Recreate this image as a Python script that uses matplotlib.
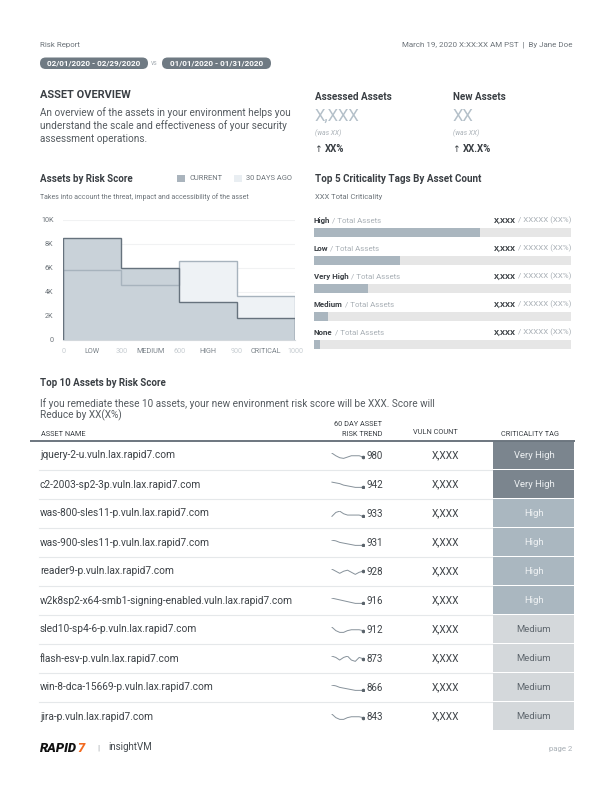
import matplotlib.pyplot as plt
import numpy as np
from matplotlib.patches import FancyBboxPatch, Rectangle

plt.rcParams['font.family'] = ['Roboto', 'DejaVu Sans']

# report period
period_current = '02/01/2020 - 02/29/2020'
period_prior = '01/01/2020 - 01/31/2020'

# assets by risk score, counts per score band
score_bands = ['LOW', 'MEDIUM', 'HIGH', 'CRITICAL']
score_edges = ['0', '300', '600', '900', '1000']
current_counts = [8500, 6000, 3200, 1800]
prior_counts = [5800, 4600, 6600, 3700]
count_ticks = [0, 2000, 4000, 6000, 8000, 10000]
count_labels = ['0', '2K', '4K', '6K', '8K', '10K']

# top 5 criticality tags, share of total assets
crit_tags = ['High', 'Low', 'Very High', 'Medium', 'None']
crit_share = [0.646, 0.335, 0.21, 0.054, 0.023]

# top 10 assets by risk score
asset_names = ['jquery-2-u.vuln.lax.rapid7.com',
               'c2-2003-sp2-3p.vuln.lax.rapid7.com',
               'was-800-sles11-p.vuln.lax.rapid7.com',
               'was-900-sles11-p.vuln.lax.rapid7.com',
               'reader9-p.vuln.lax.rapid7.com',
               'w2k8sp2-x64-smb1-signing-enabled.vuln.lax.rapid7.com',
               'sled10-sp4-6-p.vuln.lax.rapid7.com',
               'flash-esv-p.vuln.lax.rapid7.com',
               'win-8-dca-15669-p.vuln.lax.rapid7.com',
               'jira-p.vuln.lax.rapid7.com']
risk_scores = [980, 942, 933, 931, 928, 916, 912, 873, 866, 843]
vuln_counts = ['X,XXX'] * 10
asset_tags = ['Very High', 'Very High', 'High', 'High', 'High', 'High',
              'Medium', 'Medium', 'Medium', 'Medium']
risk_trends = [
    [9, 5, 2, 1, 3, 5, 5, 5, 3],
    [9, 8, 7, 5, 4, 3, 2, 2, 2],
    [3, 6, 7, 5, 4, 4, 4, 4, 3],
    [9, 8, 6, 5, 4, 3, 2, 2, 2],
    [6, 4, 2, 4, 5, 3, 1, 3, 4],
    [9, 8, 7, 6, 5, 4, 3, 3, 3],
    [8, 4, 2, 2, 4, 5, 5, 5, 4],
    [5, 4, 2, 4, 5, 2, 1, 4, 3],
    [9, 8, 6, 5, 4, 3, 2, 2, 2],
    [8, 4, 2, 2, 4, 5, 5, 5, 4],
]

W, H = 612, 792
DARK = '#3a3f44'
MID = '#6d747a'
LIGHT = '#a9b0b6'
BODY = '#555b60'

fig = plt.figure(figsize=(W / 100, H / 100), dpi=100)


def box(x0, y0, x1, y1):
    return [x0 / W, 1 - y1 / H, (x1 - x0) / W, (y1 - y0) / H]


bg = fig.add_axes([0, 0, 1, 1])
bg.set_xlim(0, W)
bg.set_ylim(H, 0)
bg.axis('off')

# header
bg.text(40, 44.5, 'Risk Report', fontsize=5.7, color=MID, va='center')
bg.text(572, 44.5, 'March 19, 2020 X:XX:XX AM PST  |  By Jane Doe', fontsize=5.8,
        color=MID, va='center', ha='right')
for x0, x1, label in [(40, 148, period_current), (162, 271, period_prior)]:
    bg.add_patch(FancyBboxPatch((x0, 57.5), x1 - x0, 11.5,
                                boxstyle='round,pad=0,rounding_size=5.7',
                                fc='#6f7a83', ec='none'))
    bg.text((x0 + x1) / 2, 63.3, label, fontsize=5.9, color='white',
            fontweight='bold', ha='center', va='center')
bg.text(154, 63.3, 'vs', fontsize=4.8, color=LIGHT, ha='center', va='center')

# asset overview
bg.text(40, 95.5, 'ASSET OVERVIEW', fontsize=7.9, fontweight='bold', color=DARK, va='center')
for i, line in enumerate(['An overview of the assets in your environment helps you',
                          'understand the scale and effectiveness of your security',
                          'assessment operations.']):
    bg.text(40, 112.5 + 13 * i, line, fontsize=7.2, color=BODY, va='center')

for x0, title, value, delta in [(315, 'Assessed Assets', 'X,XXX', 'XX%'),
                                (453, 'New Assets', 'XX', 'XX.X%')]:
    bg.text(x0, 96.5, title, fontsize=7.1, fontweight='bold', color=DARK, va='center')
    bg.text(x0, 116.5, value, fontsize=12, color='#b4c0c9', va='center')
    bg.text(x0, 133.3, '(was XX)', fontsize=4.9, style='italic', color=LIGHT, va='center')
    arr = bg.text(x0, 149.3, '\u2191 ', fontsize=6.6, color=DARK, va='center')
    bg.annotate(delta, xy=(1, 0), xycoords=arr, fontsize=6.9, fontweight='bold',
                color=DARK, va='bottom')

# assets by risk score
bg.text(40, 178.7, 'Assets by Risk Score', fontsize=7.0, fontweight='bold', color=DARK, va='center')
bg.add_patch(Rectangle((177, 175), 8, 7, fc='#aab4bd', ec='none'))
bg.text(189.5, 178.7, 'CURRENT', fontsize=5.4, color=MID, va='center')
bg.add_patch(Rectangle((234, 175), 8, 7, fc='#e9eef2', ec='none'))
bg.text(246, 178.7, '30 DAYS AGO', fontsize=5.4, color=MID, va='center')
bg.text(40, 197.3, 'Takes into account the threat, impact and accessibility of the asset',
        fontsize=5.0, color=MID, va='center')

ax = fig.add_axes(box(63.3, 220, 295, 340))
ax.patch.set_alpha(0)
edges = np.arange(len(current_counts) + 1)
ax.stairs(prior_counts, edges, baseline=0, fill=True, color='#eef2f5', lw=0, zorder=1)
ax.stairs(current_counts, edges, baseline=0, fill=True, color='#c9d2d9', lw=0, zorder=2)
ax.stairs(prior_counts, edges, baseline=0, color='#a7b3bd', lw=1, zorder=3)
ax.stairs(current_counts, edges, baseline=0, color='#66727d', lw=1, zorder=4)
ax.set_xlim(0, len(current_counts))
ax.set_ylim(0, 10000)
ax.set_yticks(count_ticks, labels=count_labels)
ax.set_xticks(edges, labels=score_edges)
ax.set_xticks(edges[:-1] + 0.5, labels=score_bands, minor=True)
ax.tick_params(axis='both', which='both', length=0, labelsize=5.2)
ax.tick_params(axis='y', pad=7, colors=MID)
ax.tick_params(axis='x', which='both', pad=6)
for lab in ax.get_xticklabels():
    lab.set_color('#c6ccd1')
for lab in ax.get_xticklabels(minor=True):
    lab.set_color('#7b838a')
ax.set_axisbelow(True)
ax.yaxis.grid(True, color='#f1f2f3', lw=0.8)
for s in ['top', 'right', 'left']:
    ax.spines[s].set_visible(False)
ax.spines['bottom'].set_color('#d3d8dc')
ax.spines['bottom'].set_linewidth(0.8)

# top 5 criticality tags
bg.text(315, 179, 'Top 5 Criticality Tags By Asset Count', fontsize=7.1, fontweight='bold',
        color=DARK, va='center')
bg.text(315, 197.3, 'XXX Total Criticality', fontsize=5.5, color=MID, va='center')

cx = fig.add_axes(box(314, 218.5, 571, 358.5))
cx.axis('off')
rows = np.arange(len(crit_tags))
cx.barh(rows, [1] * len(rows), height=0.29, color='#e6e6e6')
cx.barh(rows, crit_share, height=0.29, color='#aab6bf')
cx.set_xlim(0, 1)
cx.set_ylim(len(rows) - 0.5, -0.5)
for i, tag in enumerate(crit_tags):
    t = cx.text(0, i - 0.44, tag, fontsize=5.7, fontweight='bold', color=DARK, va='center')
    cx.annotate(' / Total Assets', xy=(1, 0), xycoords=t, fontsize=5.7, color=LIGHT, va='bottom')
    r = cx.text(1, i - 0.44, ' / XXXXX (XX%)', fontsize=5.7, color=LIGHT, va='center', ha='right')
    cx.annotate('X,XXX', xy=(0, 0), xycoords=r, fontsize=5.7, fontweight='bold', color=DARK,
                va='bottom', ha='right')

# top 10 assets table
bg.text(40, 383.5, 'Top 10 Assets by Risk Score', fontsize=7.0, fontweight='bold', color=DARK,
        va='center')
bg.text(40, 403.5, 'If you remediate these 10 assets, your new environment risk score will be XXX. Score will',
        fontsize=7.2, color=BODY, va='center')
bg.text(40, 415.5, 'Reduce by XX(X%)', fontsize=7.2, color=BODY, va='center')
bg.text(41, 434.5, 'ASSET NAME', fontsize=5.3, color=DARK, va='center')
bg.text(382, 425, '60 DAY ASSET', fontsize=5.3, color=DARK, va='center', ha='right')
bg.text(382, 434.5, 'RISK TREND', fontsize=5.3, color=DARK, va='center', ha='right')
bg.text(435, 432, 'VULN COUNT', fontsize=5.3, color=DARK, va='center', ha='center')
bg.text(530, 434.5, 'CRITICALITY TAG', fontsize=5.3, color=DARK, va='center', ha='center')
bg.plot([30, 575], [440.5, 440.5], color='#6c767f', lw=1.4, solid_capstyle='butt')

tag_fill = {'Very High': '#7b858e', 'High': '#aab7c0', 'Medium': '#d4d8db'}
tag_text = {'Very High': '#eef1f3', 'High': '#eef1f3', 'Medium': '#5f676e'}
row_h = 29
for i, name in enumerate(asset_names):
    top = 441 + row_h * i
    yc = top + row_h / 2
    bg.add_patch(Rectangle((492.5, top), 81, row_h - 1, fc=tag_fill[asset_tags[i]], ec='none'))
    bg.text(534, yc, asset_tags[i], fontsize=6.8, color=tag_text[asset_tags[i]],
            ha='center', va='center')
    if i < len(asset_names) - 1:
        bg.plot([39, 492], [top + row_h - 0.5] * 2, color='#e5e8ea', lw=0.8)
    bg.text(40, yc, name, fontsize=7.3, color='#3d4247', va='center')
    bg.text(383, yc + 0.5, str(risk_scores[i]), fontsize=7.0, color='#3d4247',
            va='center', ha='right')
    bg.text(445, yc, vuln_counts[i], fontsize=7.3, color='#3d4247', va='center', ha='center')

    sx = fig.add_axes(box(331, yc - 3, 364, yc + 3.5))
    sx.axis('off')
    trend = risk_trends[i]
    sx.plot(range(len(trend)), trend, color='#86919a', lw=0.7)
    sx.plot(len(trend) - 1, trend[-1], 'o', ms=1.6, color='#5a636b')
    sx.margins(x=0.03, y=0.12)

# footer
logo = bg.text(40, 748.5, 'RAPID', fontsize=9.4, fontweight='heavy', style='italic',
               color='#111111', va='center')
bg.annotate('7', xy=(1, 0), xycoords=logo, xytext=(0.3, 0), textcoords='offset points',
            fontsize=9.4, fontweight='heavy', style='italic', color='#f26b21', va='bottom')
bg.text(98, 747.5, '|', fontsize=6, color='#9aa1a7', va='center', ha='center')
bg.text(108.5, 747.5, 'insightVM', fontsize=7, color='#444a4f', va='center')
bg.text(572, 748.5, 'page 2', fontsize=5.6, color=LIGHT, va='center', ha='right')

fig.savefig('out.png', dpi=100)
